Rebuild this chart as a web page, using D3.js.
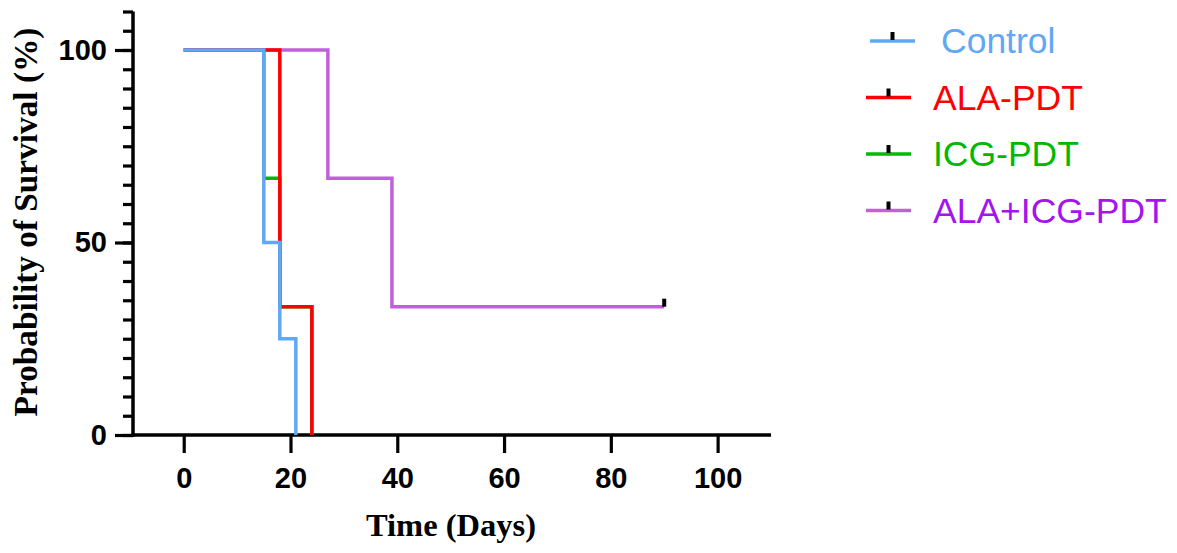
<!DOCTYPE html>
<html>
<head>
<meta charset="utf-8">
<script src="https://cdn.jsdelivr.net/npm/d3@7"></script>
<style>
  body { margin: 0; background: #fff; }
  svg { display: block; }
</style>
</head>
<body>
<script>
// Kaplan-Meier curves, values
const groups = ["Control", "ALA-PDT", "ICG-PDT", "ALA+ICG-PDT"];
const groupColors = ["#5fa8f6", "#ff0000", "#00bb00", "#c060dc"];
const textColors = ["#5fa8f6", "#ff0000", "#00b800", "#a414ec"];

const controlDays = [0, 15, 18, 21];
const controlSurv = [100, 50, 25, 0];
const alaDays = [0, 18, 24];
const alaSurv = [100, 33.33, 0];
const icgDays = [0, 15, 18, 24];
const icgSurv = [100, 66.67, 33.33, 0];
const comboDays = [0, 27, 39, 90];
const comboSurv = [100, 66.67, 33.33, 33.33];

// censored points (day, survival) for the combined group
const censorDays = [90];
const censorSurv = [33.33];

const xTicks = [0, 20, 40, 60, 80, 100];
const yMajor = [0, 50, 100];

const width = 1177, height = 553;

const svg = d3.select("body").append("svg")
  .attr("width", width)
  .attr("height", height);

const x = d3.scaleLinear().domain([-9.5, 110]).range([133, 771]);
const y = d3.scaleLinear().domain([0, 110]).range([435, 11.5]);

const sans = "Arial, 'Liberation Sans', sans-serif";
const serif = "'Times New Roman', 'Liberation Serif', serif";

// y axis: minor ticks every 5, major at 0/50/100
const yMinor = svg.append("g")
  .attr("transform", "translate(133,0)")
  .call(d3.axisLeft(y).tickValues(d3.range(0, 111, 5)).tickSize(10).tickFormat(""));
const yAxis = svg.append("g")
  .attr("transform", "translate(133,0)")
  .call(d3.axisLeft(y).tickValues(yMajor).tickSize(18).tickPadding(8));

const xAxis = svg.append("g")
  .attr("transform", "translate(0,435)")
  .call(d3.axisBottom(x).tickValues(xTicks).tickSize(18).tickPadding(14));

[yMinor, yAxis, xAxis].forEach(g => {
  g.select(".domain").attr("stroke", "#000").attr("stroke-width", 3.5);
  g.selectAll(".tick line").attr("stroke", "#000").attr("stroke-width", 3.2);
  g.selectAll("text")
    .attr("fill", "#000")
    .style("font-family", sans)
    .style("font-weight", "bold")
    .style("font-size", "29px");
});
yMinor.select(".domain").attr("d", `M0,${y(110)}V${y(0) + 1.75}`);
xAxis.select(".domain").attr("d", `M${x(-9.5) - 1.75},0H${x(110)}`);
yAxis.select(".domain").remove();

// axis titles
svg.append("text")
  .attr("x", 451).attr("y", 536)
  .attr("text-anchor", "middle")
  .style("font-family", serif)
  .style("font-weight", "bold")
  .style("font-size", "32.5px")
  .text("Time (Days)");

svg.append("text")
  .attr("transform", "translate(37,222) rotate(-90)")
  .attr("text-anchor", "middle")
  .style("font-family", serif)
  .style("font-weight", "bold")
  .style("font-size", "33.3px")
  .text("Probability of Survival (%)");

// curves, drawn bottom to top
const series = [
  { name: groups[2], days: icgDays, surv: icgSurv, color: groupColors[2] },
  { name: groups[3], days: comboDays, surv: comboSurv, color: groupColors[3] },
  { name: groups[1], days: alaDays, surv: alaSurv, color: groupColors[1] },
  { name: groups[0], days: controlDays, surv: controlSurv, color: groupColors[0] }
];

const line = d3.line()
  .x(d => x(d[0]))
  .y(d => y(d[1]))
  .curve(d3.curveStepAfter);

svg.append("g").selectAll("path")
  .data(series)
  .join("path")
  .attr("d", s => line(s.days.map((t, i) => [t, s.surv[i]])))
  .attr("fill", "none")
  .attr("stroke", s => s.color)
  .attr("stroke-width", 3.5);

// censor marks
svg.append("g").selectAll("rect")
  .data(censorDays.map((t, i) => [t, censorSurv[i]]))
  .join("rect")
  .attr("x", d => x(d[0]) - 2)
  .attr("y", d => y(d[1]) - 8)
  .attr("width", 4)
  .attr("height", 8)
  .attr("fill", "#000");

// legend
const legend = svg.append("g").selectAll("g")
  .data(groups)
  .join("g")
  .attr("transform", (d, i) => `translate(${i === 0 ? 4 : 0},${41 + i * 56.5})`);

legend.append("line")
  .attr("x1", 866).attr("x2", 911)
  .attr("y1", 0).attr("y2", 0)
  .attr("stroke", (d, i) => groupColors[i])
  .attr("stroke-width", 3.5);

legend.append("rect")
  .attr("x", 886.5).attr("y", -9)
  .attr("width", 4).attr("height", 8)
  .attr("fill", "#000");

legend.append("text")
  .attr("x", (d, i) => i === 0 ? 937 : 933)
  .attr("y", 12)
  .attr("fill", (d, i) => textColors[i])
  .style("font-family", sans)
  .style("font-size", "35.5px")
  .text(d => d);
</script>
</body>
</html>
